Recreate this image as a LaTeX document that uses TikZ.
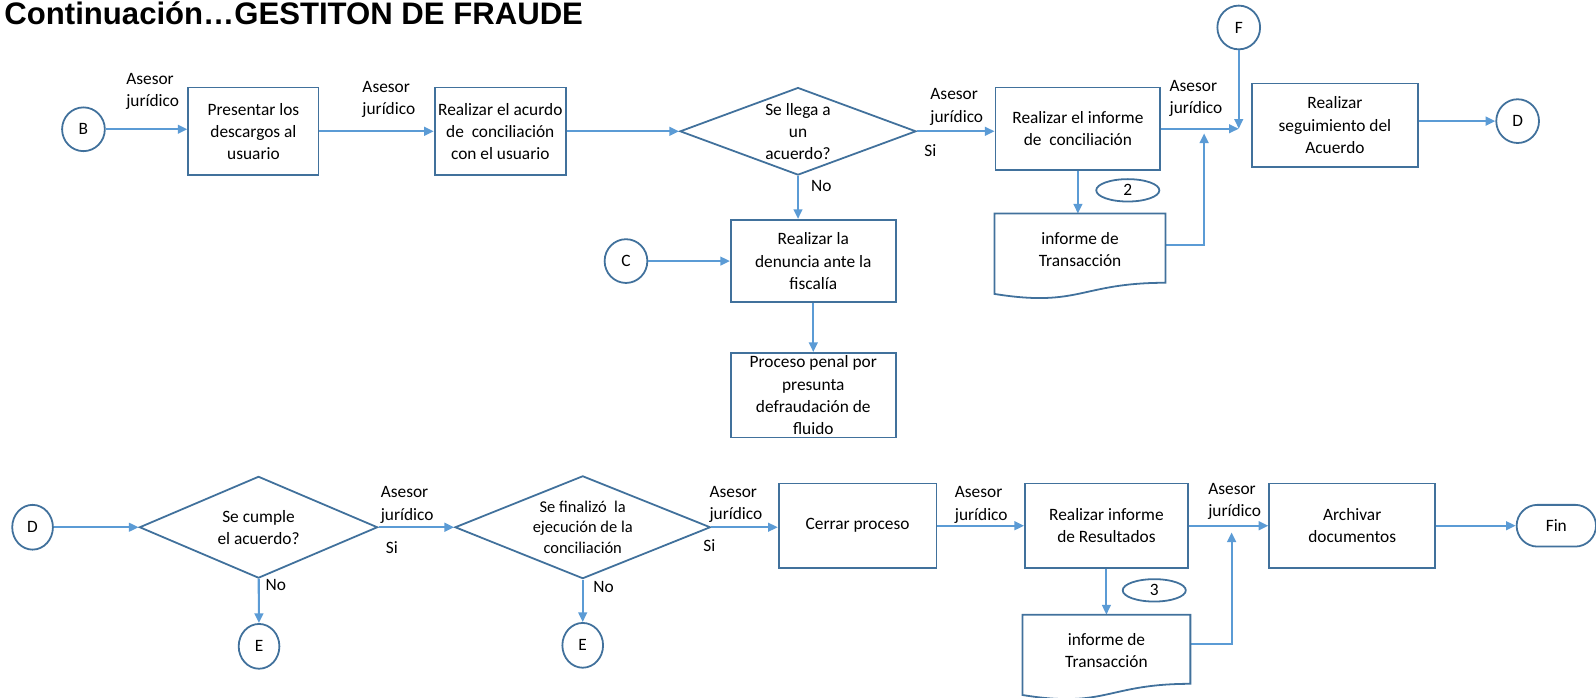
\documentclass[tikz,border=0pt]{standalone}
\usepackage{fontspec}
\setmainfont{Carlito}
\newfontfamily\headfont{Liberation Sans}
\usepackage{xcolor}
\usetikzlibrary{shapes.geometric, arrows.meta, positioning, calc}
\definecolor{edgeblue}{HTML}{41719C}
\definecolor{wireblue}{HTML}{5B9BD5}
\tikzset{
    task/.style={rectangle, draw=edgeblue, line width=1pt, minimum width=3.24cm, minimum height=1.66cm, align=center, inner sep=1pt, font={\fontsize{9.7}{12.4}\selectfont}},
    decision/.style={diamond, draw=edgeblue, line width=1pt, align=center, inner sep=0pt, font={\fontsize{9.7}{12.4}\selectfont}},
    linkpt/.style={ellipse, draw=edgeblue, line width=1pt, minimum width=0.84cm, minimum height=0.86cm, inner sep=0pt, font={\fontsize{9.7}{12.4}\selectfont}},
    tag/.style={ellipse, draw=edgeblue, line width=1pt, minimum width=1.24cm, minimum height=0.44cm, inner sep=0pt, font={\fontsize{9.7}{12.4}\selectfont}},
    terminal/.style={rectangle, rounded corners=0.41cm, draw=edgeblue, line width=1pt, minimum width=1.56cm, minimum height=0.82cm, font={\fontsize{9.7}{12.4}\selectfont}},
    docbox/.style={rectangle, minimum width=3.36cm, minimum height=1.4cm, outer sep=0pt, align=center, inner sep=1pt, font={\fontsize{9.7}{12.4}\selectfont}},
    docline/.style={draw=edgeblue, line width=1pt},
    flow/.style={-{Triangle[length=0.19cm, width=0.17cm]}, draw=wireblue, line width=1.2pt}
}

\begin{document}
\begin{tikzpicture}[x=0.02cm, y=-0.02cm,
  actor/.style={align=left, inner sep=0pt, font={\fontsize{9.7}{12.4}\selectfont}},
  answer/.style={inner sep=0pt, font={\fontsize{9.7}{12.4}\selectfont}}]
  \useasboundingbox (0,0) rectangle (1568,685);
  \node[anchor=base west, inner sep=0pt, font={\headfont\bfseries\fontsize{17.4}{20}\selectfont}] (title) at (4,24) {Continuación…GESTITON DE FRAUDE};

  % primera fila
  \node[linkpt] (inB) at (82,127) {B};
  \node[task, minimum width=2.56cm, minimum height=1.72cm] (present) at (249,129) {Presentar los\\descargos al\\usuario};
  \node[task, minimum width=2.58cm, minimum height=1.72cm] (settle) at (491.5,129) {Realizar el acurdo\\de~ conciliación\\con el usuario};
  \node[decision, aspect=2.7, minimum width=4.64cm, minimum height=1.72cm] (agree) at (784,129) {Se llega a\\un\\acuerdo?};
  \node[task, minimum height=1.62cm] (report) at (1059,126.5) {Realizar el informe\\de~ conciliación};
  \node[task, minimum height=1.62cm] (complaint) at (799,256.5) {Realizar la\\denuncia ante la\\fiscalía};
  \node[task, below=0.96cm of complaint] (penal) {Proceso penal por\\presunta\\defraudación de\\fluido};
  \node[linkpt] (inC) at (615,256.5) {C};
  \node[docbox, below=0.84cm of report.south west, anchor=north west] (record2) {informe de\\Transacción};
  \node[tag] (num2) at (1108,187) {2};
  \node[linkpt] (inF) at (1217,27) {F};
  \node[task, minimum width=3.26cm, minimum height=1.64cm] (follow) at (1311.5,123) {Realizar\\seguimiento del\\Acuerdo};
  \node[linkpt] (outD) at (1491,119) {D};
  \coordinate (merge2) at (1217,126.5);
  \coordinate (rise2) at (1183,131);

  \node[actor] (role1) at (150,90) {Asesor\\jurídico};
  \node[actor] (role2) at (382,98) {Asesor\\jurídico};
  \node[actor] (role3) at (940,105) {Asesor\\jurídico};
  \node[actor] (role4) at (1175,97) {Asesor\\jurídico};
  \node[answer] (yes1) at (914,148) {Si};
  \node[answer] (no1) at (807,183) {No};

  \draw[flow] (inB) -- (inB -| present.west);
  \draw[flow] (present) -- (settle);
  \draw[flow] (settle) -- (agree);
  \draw[flow] (agree.east) -- (agree.east -| report.west);
  \draw[flow] (agree) -- (agree |- complaint.north);
  \draw[flow] (inC) -- (complaint);
  \draw[flow] (complaint) -- (penal);
  \draw[flow] (report) -- (report |- record2.north);
  \draw[flow] (report.east) -- (merge2);
  \draw[flow] (inF) -- (merge2);
  \draw[flow] ([yshift=0.08cm]record2.east) -| (rise2);
  \draw[flow] (follow.east |- outD) -- (outD);

  % segunda fila
  \node[linkpt, minimum width=0.8cm, minimum height=0.88cm] (inD) at (32,518) {D};
  \node[decision, aspect=2.34, minimum width=4.68cm, minimum height=2cm] (kept) at (254,518) {Se cumple\\el acuerdo?};
  \node[decision, aspect=2.49, minimum width=5.02cm, minimum height=2.02cm, font={\fontsize{9.2}{11.4}\selectfont}] (done) at (572.5,518) {Se finalizó~ la\\ejecución de la\\conciliación};
  \node[linkpt, minimum width=0.8cm, minimum height=0.88cm] (outE1) at (254.5,635) {E};
  \node[linkpt, minimum width=0.8cm, minimum height=0.88cm] (outE2) at (572.5,634) {E};
  \node[task, minimum width=3.1cm] (close) at (842.5,516.5) {Cerrar proceso};
  \node[task, minimum width=3.2cm] (results) at (1087,516.5) {Realizar informe\\de Resultados};
  \node[docbox, minimum width=3.3cm, below=0.9cm of results] (record3) {informe de\\Transacción};
  \node[tag] (num3) at (1134,580) {3};
  \node[task, minimum width=3.26cm] (archive) at (1328.5,516.5) {Archivar\\documentos};
  \node[terminal] (finish) at (1529,516.5) {Fin};
  \coordinate (rise3) at (1210,523);

  \node[actor] (role5) at (400,496) {Asesor\\jurídico};
  \node[actor] (role6) at (723,495.5) {Asesor\\jurídico};
  \node[actor] (role7) at (964,496) {Asesor\\jurídico};
  \node[actor] (role8) at (1213,493) {Asesor\\jurídico};
  \node[answer] (yes2) at (385,538) {Si};
  \node[answer] (yes3) at (697,536) {Si};
  \node[answer] (no2) at (271,575) {No};
  \node[answer] (no3) at (593,577) {No};

  \draw[flow] (inD) -- (kept);
  \draw[flow] (kept) -- (done);
  \draw[flow] (done.east) -- (done.east -| close.west);
  \draw[flow] (close) -- (results);
  \draw[flow] (results) -- (archive);
  \draw[flow] (archive) -- (finish);
  \draw[flow] (kept) -- (outE1);
  \draw[flow] (done) -- (outE2);
  \draw[flow] (results) -- (results |- record3.north);
  \draw[flow] ([yshift=0.13cm]record3.east) -| (rise3);

  % hojas de documento con borde ondulado
  \foreach \d in {record2, record3}
    \draw[docline] (\d.north west) -- (\d.north east) -- ($(\d.north east)!0.971!(\d.south east)$)
      .. controls ($(\d.north)!0.971!(\d.south)$) and ($(\d.north)!1.32!(\d.south)$)
      .. ($(\d.north west)!1.128!(\d.south west)$) -- cycle;
\end{tikzpicture}
\end{document}
